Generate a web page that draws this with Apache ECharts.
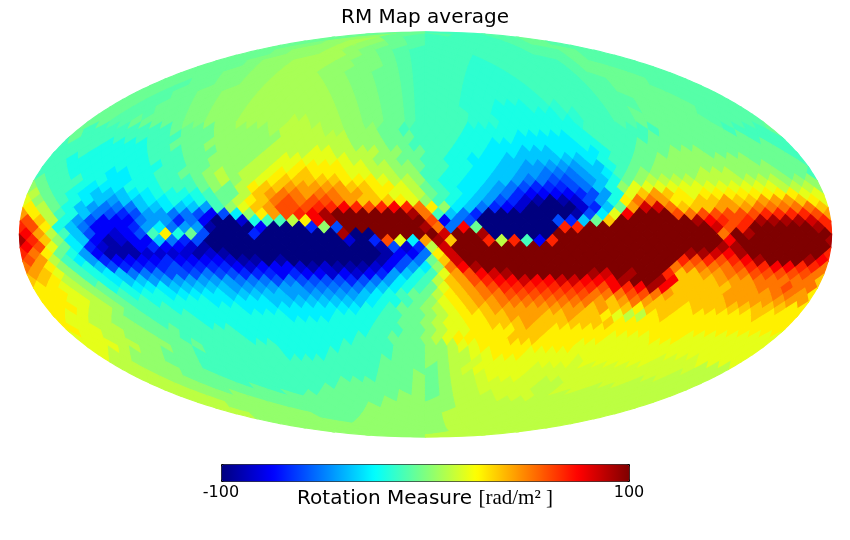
<!DOCTYPE html>
<html>
<head>
<meta charset="utf-8">
<title>RM Map average</title>
<script src="https://cdn.jsdelivr.net/npm/echarts@6/dist/echarts.min.js"></script>
<style>
  html, body { margin: 0; background: #fff; }
  #chart { width: 850px; height: 540px; }
</style>
</head>
<body>
<div id="chart"></div>
<script>
// HEALPix nside=16 map, one string per ring, left to right.
// A letter is a colour level: A = -100 ... Z = +100, 8 rad/m2 per letter,
// lower case is half a step above the capital.
const northCap = [
  'M M l L',
  'MN Ml LL Ll',
  'MNn NMl LLL LlM',
  'MmNn NmMl LLLL LlMl',
  'MmNNn NmMlL LLLLL LllMl',
  'MMmNNn nNmMlL LLLLLL LllMll',
  'MMmNNnn nNmmMlL LLLkLLL LLlMlll',
  'MMMmNNnn nNNmmMlL LLLkkLLL LLlMMlll',
  'MMMmmNNnn nNNmmMMlL LLLkkkLLL LLlMMMlll',
  'MMMMmmNNnn nnNNmmMMlL LLLkkkkLLL LLllMMMlll',
  'MMlMMmmNNnn nnnNNmmMMlL LLLkkkkkLLL LLllMMMllll',
  'MMlMMmmNNNnn nnnnNNmmMMlL LLLkkkkkkLLL LLllMMMMllll',
  'MMllMMmmNNNnn nnnnnNNmmMMlL LLLkkkkkkkLLL LLlllMMMMllll',
  'MMllMMMmmNNNnn nnnnnnNNmmMMlL LLLkkkKKKkkkLL LLlllMMMMMllll',
  'MMlllMMMmmNNNnn nnnnnnnNNmmMMlL LLLLkkKKKKKKkkL LLllMMMMMMlllll'
];
const equatorBand = [
  'MMllMMMM MmmNNNnn nnnOOnnn NNmmMMlL LLLLkkkK KKKKKKkL LLllMMMM MMMlllll',
  'MLLLLLLL LMMMMNNN NNnOOOOn nNNNMMLL LLLLKKKK KKKKKKKL LLLLLLMM MMMMLLLL',
  'MLLLLLLL LLMMMNNN NNNOOOOO ONNNMMML LLLKKKKK JJJJJKKL LLLLMMMM MMMMMLLL',
  'LLLLKKKK LLMMMNNN NNNOOOOO OONNNMML LLLKKKJJ JJJJJJKK LLLMMMMM MMMMMMML',
  'LLLKKKKK LLLMMMNN NNOOOOPP OOOONNMM LLKKKJJJ IIIJJJJK LLMMMNNN MMMMMMML',
  'LLKKKKKK KLLLMMNN NNOOPPPP PPOONNMM LLKKJJJI IIIIIIJK LLMMNNNN NNNNMMMM',
  'LLKKKKKK KKLLMMNN NOOPPQQQ QPPOONNM LLKKJJII HHHHHIIK LMMNNNNN NNNNNMMM',
  'LLLKKKJJ KKLLMMNO NOOPQQRQ QQPPOONN LLKKJJII HHGGGHIJ LMNNNNNO OONNNNMM',
  'MLLLKKJJ KKLLLMNO NOPQRRRR RQQQPOON LKKJJIIH GGFFGHIK MNOOOOOO OOOOONNN',
  'NMLLKJJJ KKKLLLMN MOQRRSSS SSRRQQPO MLKJJIHG FEEEFGIK NPPPPPPP PPPPPOOO',
  'OMLKJIII JJKKKKLM MORSTTST TSSRQPPO MLKJIHGE DDDDEFHK PRSRQPQQ QQQQQQPP',
  'PNMLKJIH IIJJKJKL MOQRTUTU UTSRRRQP NLKJIHFE CBABCFHK QTTSQQRR SRRSSSRQ',
  'QOMKIHGG GIIJIIHL NPRSUUUV VWVUVWVT QNJIGEDC AAAACEIM SXXTRRRS SSTTTTTR',
  'SQOLKIGF EFHHGGFD FJNQSUVW YZZZZZZY TLIGEAAA AAAABFJP WZZZUTUU UUUVVVVU',
  'UROKHFDD DGHHEGDA ACKLLOQW YZZZZZZZ UDGFAAAA AAFEIMRZ ZZZZZYWV UVYYYYXV',
  'VUQKIGDD DEHJGHHB AAADAAAE NFZZZZZZ YTGWMAAA AAAVVZZZ ZZZZZZZX UVZZZZZY',
  'WSOLIFDC DFLQKMFA AAEAAAAA AYAAZZZZ ZXZZYAAA AAZZZZZZ ZZZZZZZT ZYZZZZZZ',
  'YVRNJIDB CDDIGEFA AAAAAAAA AACAEUPJ SYRZZVOV LDVZZZZZ ZZZZZZZZ WZZZZZZZ',
  'WUPMJECB BDEDDCBA AAAAAAAA AAAABFCE OXZZZZZZ ZZZZZZZZ ZZZZZZZY YZZZZZZZ',
  'VTQMKHDB BBCCCCBC BAAAAAAA AAAAABDD GQXZZZZZ ZZZZZZZZ ZZZZZYYX WYZZZZZZ',
  'USOLJHED DDDEDDDD CBBABAAA AAAABDFG MRXZZZZZ ZZZZZZZZ ZZZZVUVU VWYZZZYW',
  'TSQNLKIF EEEEFEEE EDCDDDCB CBBBCDFH JNTWYZZZ ZZZZZZZZ ZZZZTTTT TUVVWWVV',
  'SRPNLKJI GGGFFFGF FEEEDEDD CDCDEHIK LPSUWXYZ ZZZZZYXZ YZZVRRSS TTUUUUUT',
  'RRQONLKJ IIHHHHHH HGGGFGFF FFEFGHJK LORSUVWW XWWXXWWW YZZYWRRR SSSTTTTT',
  'QQPONMKK JJJIIIII HHHHHHGG GGGHIJKL MPRSTUVV VVVVVVUW VWYWRRRR RSSTTUTT',
  'QQQPONML KKKJJJJJ IIIIIHHH HHHIJKLM MOQRSTTU UUUUUUTT TUUTSRRR RSSSSTTS',
  'QQPPONML LKKKKKJJ JJJIIIII IIIJKKLM NPQRSSTT TTTTTTSR STSRRRRR RSSSSSSS',
  'QQQPOONM LLLKKKKK KJJJJJJJ JJJKKLMM NOPQRRSS SSSSSSRS RRQRRRQR RRRRRRRQ',
  'QPPOONMM LLLLKKKK KKKKJJJJ KKKKLLMM NOPQQRRS SSRRSRRQ POOQRQQQ QQQQRQQQ',
  'QPPOONNM MLLLLKKK KKKKKKKK KKKKLLMM NOPPQQRR RSRRRRRR RQQQQQQQ QQQQQQQQ',
  'QPPOONNM MMLLLLLK KKKKKKKK KKKLLLMM NOPPQQQQ RRRQQQQQ QQQQQQQQ QQQQQQQQ',
  'PPPOONNN MMLLLLLL KKKKKKKK KKLLLMMM NOPQQQQQ RRRQQQQQ QPPPPQQQ PPPPPPPP',
  'PPPOONNN MMMLLLLL LLKKKKKK LLLLLMMM NNOPPQQQ QQQQQQPP PPPPPPPP PPPPPPPP'
];
const southCap = [
  'POONNNMMMLLLLLL LLKKKKLLLLLLMMM NNOOPPQQQPPPPPP PPPPPPPPPPPPPPP',
  'OONNNMMMLLLLLL LLLLLLLLLLMMMM NNOOoPPPPPPPPo PPPPPPooooPPPP',
  'OONNNMMLLLLLL LLLLLLLLLMMMM MNOoPPPPPoooo ooooooooooOOO',
  'OONNMMMLLLLL LLLLLLLLMMMN MNOOoPPPoooo ooooooooOOOO',
  'OONNMMMLLLL LLLLMMMMMMN MNOOoooooOO oooooOOOOOO',
  'OONNMMMMLL LLMMMMMMMN MNOOooooOO ooOOOOOOOO',
  'OONNNMMMM MMMMMMMNN MNOOOoooO OOOOOOOOO',
  'OONNNMMM MMMMMNNN NNOOOOOO OOOOOOOO',
  'ONNNNMM MMMNNNN NNOOOOO OOOOOOO',
  'ONNNNM MMNNNN NOOOOO OOOOOO',
  'NNNNM MNNNN NOOOO OOOOO',
  'NNNN NNNN NOOO OOOO',
  'NNN NNN NOO OOO',
  'NN NN NO OO',
  'N N O O'
];
const colorTicks = [-100, 100];
const jetColors = ['#00007f', '#0000ff', '#007fff', '#00ffff', '#7fff7f', '#ffff00', '#ff7f00', '#ff0000', '#7f0000'];

const NSIDE = 16;
const HALF = Math.PI / (4 * NSIDE);
const SQRT2 = Math.SQRT2;

function ringValues(str) {
  return str.replace(/ /g, '').split('').map(c => {
    const up = c.toUpperCase();
    return -100 + 8 * (up.charCodeAt(0) - 65) + (c === up ? 0 : 4);
  });
}

// data items: [projection x, projection y, value]
const cells = [];
const rings = northCap.concat(equatorBand, southCap);
rings.forEach((str, r) => {
  const ring = r + 1;
  const ys = Math.PI / 2 - ring * Math.PI / (4 * NSIDE);
  const vals = ringValues(str);
  const polar = ring < NSIDE || ring > 3 * NSIDE;
  const edgeRing = !polar && (ring - NSIDE) % 2 === 1;
  const step = Math.PI / (2 * NSIDE);
  vals.forEach((v, j) => {
    let xs;
    if (polar) {
      const i = ring < NSIDE ? ring : 4 * NSIDE - ring;
      const k = Math.floor(j / i);
      const centre = -3 * Math.PI / 4 + k * Math.PI / 2;
      const phi = -Math.PI + (j + 0.5) * Math.PI / (2 * i);
      xs = centre + (phi - centre) * i / NSIDE;
    } else {
      xs = -Math.PI + (edgeRing ? j : j + 0.5) * step;
    }
    cells.push([xs, ys, v]);
    // pixel sitting on the map edge shows up on both sides
    if (!polar && edgeRing && j === 0) cells.push([xs + 2 * Math.PI, ys, v]);
  });
});

function mollweide(lon, z) {
  const target = Math.PI * z;
  let lo = -Math.PI / 2, hi = Math.PI / 2;
  for (let n = 0; n < 30; n++) {
    const t = (lo + hi) / 2;
    if (2 * t + Math.sin(2 * t) < target) lo = t; else hi = t;
  }
  const theta = (lo + hi) / 2;
  return [2 * SQRT2 / Math.PI * lon * Math.cos(theta), SQRT2 * Math.sin(theta)];
}

// inverse HEALPix projection, then Mollweide
function planeToMap(xs, ys, centre) {
  let lon = xs, z;
  if (Math.abs(ys) <= Math.PI / 4) {
    z = 8 * ys / (3 * Math.PI);
  } else {
    const sigma = Math.max(2 - 4 * Math.abs(ys) / Math.PI, 1e-6);
    z = Math.sign(ys) * (1 - sigma * sigma / 3);
    lon = centre + (xs - centre) / sigma;
  }
  lon = Math.max(-Math.PI, Math.min(Math.PI, lon));
  return mollweide(lon, z);
}

function renderCell(params, api) {
  const xs = api.value(0), ys = api.value(1);
  const k = Math.floor((xs + Math.PI) / (Math.PI / 2));
  const centre = -3 * Math.PI / 4 + k * Math.PI / 2;
  const corners = [[xs, ys + HALF], [xs + HALF, ys], [xs, ys - HALF], [xs - HALF, ys]];
  const points = [];
  for (let c = 0; c < 4; c++) {
    const a = corners[c], b = corners[(c + 1) % 4];
    for (let s = 0; s < 4; s++) {
      const px = a[0] + (b[0] - a[0]) * s / 4;
      const py = a[1] + (b[1] - a[1]) * s / 4;
      points.push(api.coord(planeToMap(px, py, centre)));
    }
  }
  const color = api.visual('color');
  return {
    type: 'polygon',
    shape: { points: points },
    style: { fill: color, stroke: color, lineWidth: 1.2 }
  };
}

const chart = echarts.init(document.getElementById('chart'));
chart.setOption({
  animation: false,
  backgroundColor: '#fff',
  textStyle: { fontFamily: 'DejaVu Sans', color: '#000' },
  title: {
    text: 'RM Map average',
    left: 'center',
    top: 3,
    textStyle: { fontFamily: 'DejaVu Sans', fontSize: 20, fontWeight: 'normal', color: '#000' }
  },
  grid: [
    { left: 19.5, top: 32, width: 812, height: 405 },
    { left: 221, top: 464, width: 408, height: 17 }
  ],
  xAxis: [
    { type: 'value', gridIndex: 0, min: -2 * SQRT2, max: 2 * SQRT2, show: false },
    {
      type: 'value', gridIndex: 1, min: colorTicks[0], max: colorTicks[1], interval: colorTicks[1] - colorTicks[0],
      splitLine: { show: false }, axisLine: { show: false }, axisTick: { show: false },
      axisLabel: { fontFamily: 'DejaVu Sans', fontSize: 16, color: '#000', margin: 4 },
      name: 'Rotation Measure {m|[rad/m² ]}',
      nameLocation: 'middle',
      nameGap: 7,
      nameMoveOverlap: false,
      nameTextStyle: {
        fontFamily: 'DejaVu Sans', fontSize: 20, color: '#000',
        rich: { m: { fontFamily: 'Liberation Serif', fontSize: 21, color: '#000' } }
      }
    }
  ],
  yAxis: [
    { type: 'value', gridIndex: 0, min: -SQRT2, max: SQRT2, show: false },
    { type: 'value', gridIndex: 1, min: 0, max: 1, show: false }
  ],
  visualMap: {
    type: 'continuous',
    seriesIndex: 0,
    dimension: 2,
    min: colorTicks[0],
    max: colorTicks[1],
    orient: 'horizontal',
    left: 221,
    top: 464,
    itemWidth: 17,
    itemHeight: 408,
    padding: 0,
    borderColor: '#000',
    borderWidth: 1,
    calculable: false,
    hoverLink: false,
    showLabel: false,
    text: null,
    inRange: { color: jetColors }
  },
  series: [
    {
      type: 'custom',
      xAxisIndex: 0,
      yAxisIndex: 0,
      coordinateSystem: 'cartesian2d',
      renderItem: renderCell,
      encode: { x: 0, y: 1 },
      data: cells,
      progressive: 0,
      silent: true,
      clip: false
    }
  ]
});
</script>
</body>
</html>
